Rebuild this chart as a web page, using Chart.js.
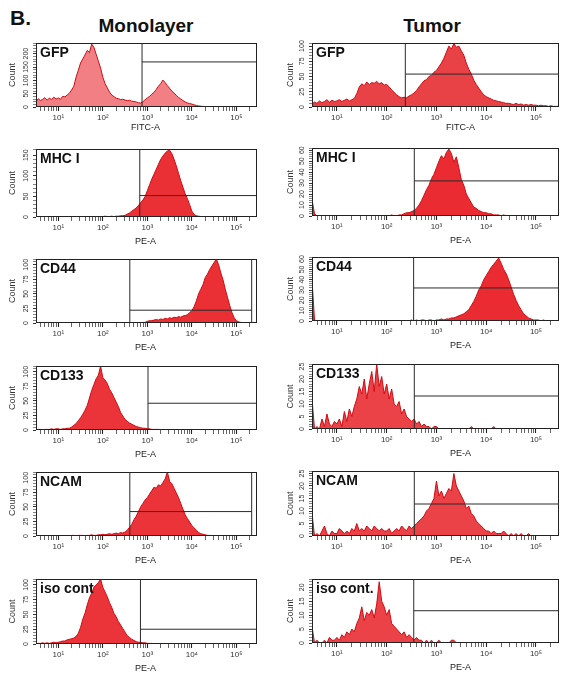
<!DOCTYPE html>
<html><head><meta charset="utf-8">
<script src="https://cdn.jsdelivr.net/npm/chart.js@4"></script>
<style>
body{margin:0;background:#fff;width:563px;height:678px;position:relative;overflow:hidden;font-family:"Liberation Sans",Arial,sans-serif;}
canvas{position:absolute;}
.hdr{position:absolute;font-weight:bold;color:#111;white-space:nowrap;line-height:1;}
.lbl{position:absolute;font-weight:bold;font-size:14px;color:#111;line-height:1;white-space:nowrap;}
</style></head><body>
<div class="hdr" style="left:10px;top:7px;font-size:21px">B.</div>
<div class="hdr" style="left:146px;top:16px;font-size:19px;transform:translateX(-50%)">Monolayer</div>
<div class="hdr" style="left:432px;top:16px;font-size:19px;transform:translateX(-50%)">Tumor</div>
<script>
// ---------- DATA ----------
// histogram bin centres, as log10 of fluorescence intensity
const binLog = [
 0.50,0.55,0.60,0.65,0.70,0.75,0.80,0.85,0.90,0.95,
 1.00,1.05,1.10,1.15,1.20,1.25,1.30,1.35,1.40,1.45,
 1.50,1.55,1.60,1.65,1.70,1.75,1.80,1.85,1.90,1.95,
 2.00,2.05,2.10,2.15,2.20,2.25,2.30,2.35,2.40,2.45,
 2.50,2.55,2.60,2.65,2.70,2.75,2.80,2.85,2.90,2.95,
 3.00,3.05,3.10,3.15,3.20,3.25,3.30,3.35,3.40,3.45,
 3.50,3.55,3.60,3.65,3.70,3.75,3.80,3.85,3.90,3.95,
 4.00,4.05,4.10,4.15,4.20,4.25,4.30,4.35,4.40,4.45,
 4.50,4.55,4.60,4.65,4.70,4.75,4.80,4.85,4.90,4.95,
 5.00,5.05,5.10,5.15,5.20,5.25,5.30,5.35,5.40,5.45];

const monoGFP = [
 20,31,24,29,35,26,33,28,37,30, 34,29,40,38,45,52,64,78,112,138,
 165,180,195,212,204,236,224,198,172,146, 112,88,72,56,45,39,33,31,28,29,
 26,24,25,22,21,19,16,15,20,27, 34,40,48,55,66,78,88,101,92,80,
 70,60,52,44,36,30,24,19,15,13, 11,8,6,4,3,2,2,1,1,1,
 1,0,1,0,0,0,0,0,0,0, 0,0,0,0,0,0,0,0,0,0];
const tumorGFP = [
 5,8,6,10,7,9,12,8,11,9, 10,12,9,11,13,10,12,14,22,33,
 38,35,41,37,40,39,42,38,40,36, 37,33,28,24,20,17,15,16,15,18,
 20,23,27,33,38,43,45,50,52,57, 60,66,72,80,90,100,95,104,98,100,
 92,85,72,62,54,44,37,31,25,20, 17,15,13,11,10,9,8,7,6,6,
 5,4,6,4,5,3,4,3,4,3, 3,2,3,2,2,1,2,1,1,1];
const monoMHC = [
 0,1,0,0,1,0,0,1,0,0, 1,0,0,1,0,1,0,0,1,0,
 0,1,1,0,1,0,1,1,0,1, 1,2,1,1,2,1,2,2,3,3,
 4,7,10,14,18,22,28,35,41,50, 64,78,92,104,116,128,140,148,155,160,
 162,154,140,124,106,88,72,56,44,30, 14,6,3,2,1,1,0,1,0,0,
 0,0,1,0,0,0,0,0,0,0, 0,0,0,0,0,0,0,0,0,0];
const tumorMHC = [
 15,2,0,0,0,0,0,0,0,0, 0,0,0,0,0,0,0,0,0,0,
 0,0,0,0,0,0,0,0,0,0, 0,0,1,0,0,1,1,2,3,3,
 4,5,7,10,14,19,24,28,34,38, 44,50,55,52,58,61,57,49,54,44,
 33,28,20,16,12,8,7,5,4,3, 3,2,2,1,1,1,0,1,0,0,
 0,0,0,0,0,0,0,0,0,0, 0,0,0,0,0,0,0,0,0,0];
const monoCD44 = [
 0,0,0,0,0,0,0,0,0,0, 0,0,0,0,0,0,0,0,0,0,
 0,0,0,0,1,0,0,0,0,0, 0,0,0,0,0,0,0,1,0,0,
 0,0,0,0,0,0,0,0,1,1, 3,4,4,5,6,5,7,6,8,7,
 9,8,10,9,11,10,12,13,14,18, 21,28,38,50,58,66,78,84,92,98,
 104,110,100,86,74,58,44,30,18,9, 4,2,1,0,0,0,0,0,0,0];
const tumorCD44 = [
 40,1,0,0,0,0,0,0,0,0, 0,0,0,0,0,0,0,0,0,0,
 0,0,0,0,0,0,0,0,0,0, 0,0,0,0,0,0,0,0,0,0,
 1,0,1,0,1,1,0,1,1,0, 1,1,2,1,2,2,3,3,4,5,
 6,7,9,11,15,19,24,30,34,40, 44,48,52,55,58,61,56,50,46,40,
 33,26,20,15,11,7,5,3,2,1, 1,1,0,1,0,0,0,0,0,0];
const monoCD133 = [
 0,1,1,0,1,1,1,2,1,2, 2,1,2,2,3,3,5,8,11,16,
 21,27,34,42,55,68,78,88,94,110, 90,86,80,70,64,56,48,40,30,24,
 18,15,12,10,8,6,5,4,3,3, 2,2,1,1,1,1,0,1,0,0,
 0,0,0,0,0,0,0,0,0,0, 0,0,0,0,0,0,0,0,0,0,
 0,0,0,0,0,0,0,0,0,0, 0,0,0,0,0,0,0,0,0,0];
const tumorCD133 = [
 12,0,1,0,4,1,6,2,1,3, 2,4,1,7,3,8,5,9,12,17,
 14,20,12,18,23,15,26,17,21,14, 18,12,16,10,9,11,6,8,5,4,
 3,4,2,3,1,2,1,1,0,1, 1,0,0,0,0,0,0,0,0,0,
 0,0,0,0,1,0,0,0,0,0, 0,0,0,1,0,0,0,0,0,0,
 0,0,0,0,0,0,0,0,0,0, 0,0,0,0,0,0,0,0,0,0];
const monoNCAM = [
 0,0,0,0,0,0,0,0,0,0, 0,0,0,0,1,0,1,1,0,1,
 1,1,0,1,1,2,1,1,2,2, 3,2,3,4,3,4,5,4,6,5,
 7,10,15,20,28,34,42,50,56,62, 66,72,78,84,82,88,86,92,98,110,
 94,90,82,74,66,56,46,36,30,24, 18,14,10,6,4,3,2,1,1,0,
 0,0,0,0,0,0,0,0,0,0, 0,0,0,0,0,0,0,0,0,0];
const tumorNCAM = [
 9,0,1,0,2,4,1,0,2,1, 1,3,2,1,2,1,3,2,5,2,
 3,2,4,3,2,4,3,2,3,2, 2,3,1,2,3,2,4,3,2,4,
 3,4,5,6,7,8,10,11,13,15, 22,16,18,15,17,19,18,25,20,18,
 16,14,11,12,9,8,6,5,4,3, 2,2,1,2,1,1,1,2,1,0,
 1,0,1,0,1,0,0,1,0,0, 0,0,0,0,0,0,0,0,0,0];
const monoIso = [
 0,1,1,2,1,2,1,2,3,2, 3,4,5,5,7,8,9,10,13,18,
 28,42,52,66,78,86,96,100,104,110, 96,88,80,70,62,52,46,38,32,26,
 20,14,11,8,6,4,3,3,2,2, 1,1,1,0,1,0,0,0,0,0,
 0,0,0,0,0,0,0,0,0,0, 0,0,0,0,0,0,0,0,0,0,
 0,0,0,0,0,0,0,0,0,0, 0,0,0,0,0,0,0,0,0,0];
const tumorIso = [
 6,0,1,0,0,1,0,2,1,1, 2,1,3,2,4,3,5,4,7,9,
 13,8,11,10,12,9,14,22,15,13, 10,12,7,6,5,4,3,4,2,3,
 2,1,2,1,1,0,1,0,1,0, 0,1,0,0,0,0,1,1,0,0,
 0,0,0,0,0,0,0,0,0,0, 0,0,0,0,0,0,0,0,0,0,
 0,0,0,0,0,0,0,0,0,0, 0,0,0,0,0,0,0,0,0,0];

const monoSeries  = [monoGFP, monoMHC, monoCD44, monoCD133, monoNCAM, monoIso];
const tumorSeries = [tumorGFP, tumorMHC, tumorCD44, tumorCD133, tumorNCAM, tumorIso];
const monoMarkers  = ['GFP','MHC I','CD44','CD133','NCAM','iso cont'];
const tumorMarkers = ['GFP','MHC I','CD44','CD133','NCAM','iso cont.'];
const xTitles = ['FITC-A','PE-A','PE-A','PE-A','PE-A','PE-A'];

// y axes (counts)
const monoYMax   = [240,165,110,110,110,110];
const monoYMajor = [50,50,25,25,25,25];
const monoYMinor = [10,10,5,5,5,5];
const tumorYMax   = [105,62,62,26,26,23];
const tumorYMajor = [25,10,10,5,5,5];
const tumorYMinor = [5,2,2,1,1,1];

// gates: left boundary, marker level, right boundary (null = axis end)
const monoGateLo  = [760,676,404,1035,404,700];
const monoGateY   = [169,52,22,46,42,25];
const monoGateHi  = [null,null,220000,null,220000,null];
const tumorGateLo = [237,359,348,359,359,350];
const tumorGateY  = [54,32,32,13.2,12.8,11.6];
const tumorGateHi = [null,null,null,null,null,null];

// x axis
const xRange = [3.16, 290000];
const xTickMajors = [10,100,1000,10000,100000];
const xTickLabels = ['10¹','10²','10³','10⁴','10⁵'];
const xMinorMultipliers = [2,3,4,5,6,7,8,9];

// ---------- LAYOUT / STYLE ----------
const FONT = '"Liberation Sans", Arial, sans-serif';
Chart.defaults.font.family = FONT;
const COLS = {
  mono:  {left:0,   width:263, axisW:36, padR:6, tops:[43,149,259,366,472,579], bases:[107,217,323,430,536,644], titlePad:7, capShift:-1,
          series:monoSeries, markers:monoMarkers, yMax:monoYMax, yMajor:monoYMajor, yMinor:monoYMinor, gLo:monoGateLo, gY:monoGateY, gHi:monoGateHi,
          fills:['rgba(240,105,110,0.85)','rgba(232,30,36,0.92)','rgba(232,30,36,0.92)','rgba(232,30,36,0.9)','rgba(232,30,36,0.9)','rgba(232,30,36,0.9)']},
  tumor: {left:280, width:283, axisW:32, padR:4, tops:[43,148,257,364,471,579], bases:[107,216,321,429,536,643], titlePad:5, capShift:25,
          series:tumorSeries, markers:tumorMarkers, yMax:tumorYMax, yMajor:tumorYMajor, yMinor:tumorYMinor, gLo:tumorGateLo, gY:tumorGateY, gHi:tumorGateHi,
          fills:['rgba(230,45,50,0.9)','rgba(232,25,32,0.92)','rgba(232,25,32,0.92)','rgba(232,40,46,0.88)','rgba(232,40,46,0.88)','rgba(232,40,46,0.88)']}
};

const xTickObjs = [];
for (let e = 0; e <= 5; e++) {
  [1].concat(xMinorMultipliers).forEach(m => {
    const v = m * Math.pow(10, e);
    if (v > xRange[0] && v < xRange[1]) xTickObjs.push({value: v, major: xTickMajors.includes(v)});
  });
}

const boxPlugin = {
  id: 'box',
  afterDatasetsDraw(chart) {
    const {ctx, chartArea: a} = chart;
    ctx.save();
    ctx.strokeStyle = '#222'; ctx.lineWidth = 1;
    ctx.strokeRect(Math.round(a.left) + 0.5, Math.round(a.top) + 0.5, Math.round(a.width) - 1, Math.round(a.height) - 1);
    ctx.restore();
  }
};
const yRotPlugin = {
  id: 'yRot',
  afterDraw(chart, args, o) {
    const ys = chart.scales.y, ctx = chart.ctx;
    ctx.save();
    ctx.font = '7px ' + FONT; ctx.fillStyle = '#333';
    ctx.textAlign = 'center'; ctx.textBaseline = 'middle';
    ys.ticks.forEach(t => {
      if (Math.abs(t.value % o.major) > 1e-6) return;
      const y = ys.getPixelForValue(t.value);
      ctx.save();
      ctx.translate(chart.chartArea.left - o.dx, y);
      ctx.rotate(-Math.PI / 2);
      ctx.fillText(String(t.value), 0, 0);
      ctx.restore();
    });
    ctx.restore();
  }
};
const xCapPlugin = {
  id: 'xcap',
  afterDraw(chart, args, o) {
    const a = chart.chartArea, ctx = chart.ctx;
    ctx.save();
    ctx.font = '9px ' + FONT; ctx.fillStyle = '#222';
    ctx.textAlign = 'center'; ctx.textBaseline = 'middle';
    ctx.fillText(o.text, (a.left + a.right) / 2 + o.shift, a.bottom + o.dy);
    ctx.restore();
  }
};

Object.values(COLS).forEach(c => {
  for (let i = 0; i < 6; i++) {
    const T = c.tops[i], B = c.bases[i];
    const cv = document.createElement('canvas');
    cv.width = c.width; cv.height = B - T + 38;
    cv.style.left = c.left + 'px'; cv.style.top = (T - 4) + 'px';
    cv.style.width = c.width + 'px'; cv.style.height = (B - T + 38) + 'px';
    document.body.appendChild(cv);

    const lbl = document.createElement('div');
    lbl.className = 'lbl';
    lbl.textContent = c.markers[i];
    lbl.style.left = (c.left + c.axisW + 4) + 'px';
    lbl.style.top = (T + 2) + 'px';

    const yMax = c.yMax[i], yMajor = c.yMajor[i], yMinor = c.yMinor[i];
    const gLo = c.gLo[i], gY = c.gY[i], gHi = c.gHi[i];
    const gate = {borderColor: '#2a2a2a', borderWidth: 1, pointRadius: 0, fill: false, tension: 0};
    const datasets = [
      Object.assign({}, gate, {data: [{x: gLo, y: 0}, {x: gLo, y: yMax}]}),
      Object.assign({}, gate, {data: [{x: gLo, y: gY}, {x: gHi || xRange[1], y: gY}]})
    ];
    if (gHi) datasets.push(Object.assign({}, gate, {data: [{x: gHi, y: 0}, {x: gHi, y: yMax}]}));
    const vals = c.series[i];
    datasets.push({
      data: binLog.map((L, k) => ({x: Math.pow(10, L), y: vals[k]})),
      fill: 'origin', backgroundColor: c.fills[i], borderColor: '#d00a12',
      borderWidth: 1, pointRadius: 0, tension: 0
    });

    new Chart(cv, {
      type: 'line',
      data: {datasets},
      options: {
        responsive: false, animation: false, devicePixelRatio: 1, events: [],
        layout: {padding: {top: 4, right: c.padR, left: 0, bottom: 0}},
        plugins: {
          legend: {display: false}, tooltip: {enabled: false},
          yRot: {major: yMajor, dx: 10},
          xcap: {text: xTitles[i], shift: c.capShift, dy: i === 0 ? 21 : 25}
        },
        scales: {
          x: {
            type: 'logarithmic', min: xRange[0], max: xRange[1],
            afterBuildTicks: s => { s.ticks = xTickObjs.map(t => Object.assign({}, t)); },
            afterFit: s => { s.height = 34; },
            ticks: {autoSkip: false, maxRotation: 0, minRotation: 0, padding: 2, color: '#333',
              font: {size: 8, family: FONT},
              callback: v => { const k = xTickMajors.indexOf(v); return k >= 0 ? xTickLabels[k] : ''; }},
            grid: {display: true, drawOnChartArea: false, drawTicks: true, tickLength: 4, tickColor: '#222',
              tickWidth: ctx => (ctx.tick && ctx.tick.major) ? 1.1 : 0.7},
            border: {display: false}
          },
          y: {
            type: 'linear', min: 0, max: yMax,
            afterFit: s => { s.width = c.axisW; },
            ticks: {display: false, stepSize: yMinor},
            grid: {display: true, drawOnChartArea: false, drawTicks: true, tickLength: 3, tickColor: '#333',
              tickWidth: ctx => (ctx.tick && Math.abs(ctx.tick.value % yMajor) < 1e-6) ? 1 : 0.6},
            border: {display: false},
            title: {display: true, text: 'Count', color: '#333', font: {size: 9, family: FONT},
              padding: {top: c.titlePad, bottom: 0}}
          }
        }
      },
      plugins: [boxPlugin, yRotPlugin, xCapPlugin]
    });
    document.body.appendChild(lbl);
  }
});
</script>
</body></html>
